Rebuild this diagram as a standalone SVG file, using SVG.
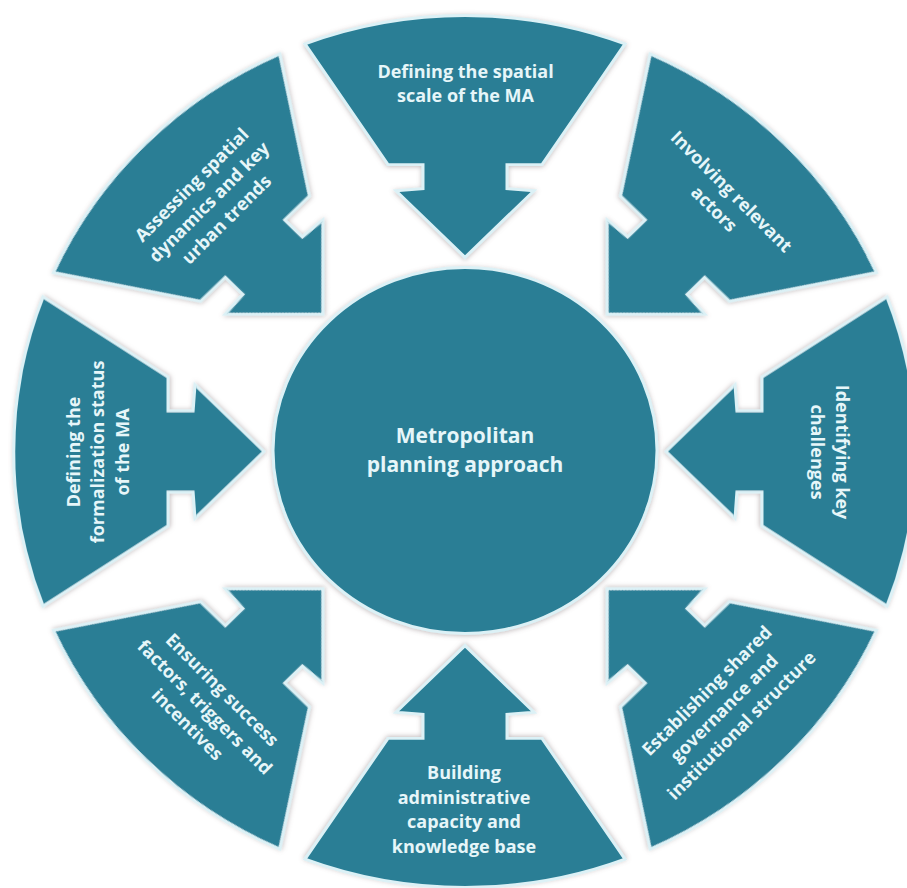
<svg xmlns="http://www.w3.org/2000/svg" xmlns:xlink="http://www.w3.org/1999/xlink" width="907" height="888" viewBox="0 0 907 888">
  <style>
    .shape { fill: #2a7e95; stroke: #dcf1f6; stroke-width: 3; stroke-linejoin: miter; filter: url(#shadow); }
    .lbl { font-family: "Open Sans", "Liberation Sans", sans-serif; font-weight: 700; font-size: 18px; fill: #e6f6f9; text-anchor: middle; }
    .center-lbl { font-family: "Open Sans", "Liberation Sans", sans-serif; font-weight: 700; font-size: 21px; fill: #e6f6f9; text-anchor: middle; }
  </style>
  <defs>
    <filter id="shadow" x="-10%" y="-10%" width="120%" height="120%">
      <feDropShadow dx="0" dy="1" stdDeviation="2.5" flood-color="#7a6a70" flood-opacity="0.45"/>
    </filter>
    <path id="wedge" d="M -160 -422 A 451 451 0 0 1 160 -422 L 77 -297 L 42 -297 L 42 -272 L 69 -270 L 0 -201 L -69 -270 L -42 -272 L -42 -297 L -77 -297 Z"/>
  </defs>
  <rect width="907" height="888" fill="#ffffff"/>

  <g id="node-spatial-scale">
    <use xlink:href="#wedge" href="#wedge" class="shape" transform="translate(465,451.5) scale(1,0.966) rotate(0)"/>
    <text class="lbl" transform="translate(465.5,83.5)"><tspan x="0" y="-5.75">Defining the spatial</tspan><tspan x="0" y="18.75">scale of the MA</tspan></text>
  </g>

  <g id="node-actors">
    <use xlink:href="#wedge" href="#wedge" class="shape" transform="translate(465,451.5) scale(1,0.966) rotate(45)"/>
    <text class="lbl" transform="translate(723,200) rotate(45)"><tspan x="0" y="-5.75">Involving relevant</tspan><tspan x="0" y="18.75">actors</tspan></text>
  </g>

  <g id="node-challenges">
    <use xlink:href="#wedge" href="#wedge" class="shape" transform="translate(465,451.5) scale(1,0.966) rotate(90)"/>
    <text class="lbl" transform="translate(830,452) rotate(90)"><tspan x="0" y="-5.75">Identifying key</tspan><tspan x="0" y="18.75">challenges</tspan></text>
  </g>

  <g id="node-governance">
    <use xlink:href="#wedge" href="#wedge" class="shape" transform="translate(465,451.5) scale(1,0.966) rotate(135)"/>
    <text class="lbl" transform="translate(724,708) rotate(-45)"><tspan x="0" y="-18">Establishing shared</tspan><tspan x="0" y="6.5">governance and</tspan><tspan x="0" y="31">institutional structure</tspan></text>
  </g>

  <g id="node-capacity">
    <use xlink:href="#wedge" href="#wedge" class="shape" transform="translate(465,451.5) scale(1,0.966) rotate(180)"/>
    <text class="lbl" transform="translate(464,809.5)"><tspan x="0" y="-30.25">Building</tspan><tspan x="0" y="-5.75">administrative</tspan><tspan x="0" y="18.75">capacity and</tspan><tspan x="0" y="43.25">knowledge base</tspan></text>
  </g>

  <g id="node-success">
    <use xlink:href="#wedge" href="#wedge" class="shape" transform="translate(465,451.5) scale(1,0.966) rotate(225)"/>
    <text class="lbl" transform="translate(205,707) rotate(45)"><tspan x="0" y="-18">Ensuring success</tspan><tspan x="0" y="6.5">factors, triggers and</tspan><tspan x="0" y="31">incentives</tspan></text>
  </g>

  <g id="node-formalization">
    <use xlink:href="#wedge" href="#wedge" class="shape" transform="translate(465,451.5) scale(1,0.966) rotate(270)"/>
    <text class="lbl" transform="translate(97.5,452) rotate(-90)"><tspan x="0" y="-18">Defining the</tspan><tspan x="0" y="6.5">formalization status</tspan><tspan x="0" y="31">of the MA</tspan></text>
  </g>

  <g id="node-dynamics">
    <use xlink:href="#wedge" href="#wedge" class="shape" transform="translate(465,451.5) scale(1,0.966) rotate(315)"/>
    <text class="lbl" transform="translate(209,202) rotate(-45)"><tspan x="0" y="-18">Assessing spatial</tspan><tspan x="0" y="6.5">dynamics and key</tspan><tspan x="0" y="31">urban trends</tspan></text>
  </g>

  <g id="node-center">
    <ellipse class="shape" cx="465" cy="450.5" rx="192" ry="183"/>
    <text class="center-lbl"><tspan x="465" y="443">Metropolitan</tspan><tspan x="465" y="472">planning approach</tspan></text>
  </g>
</svg>
